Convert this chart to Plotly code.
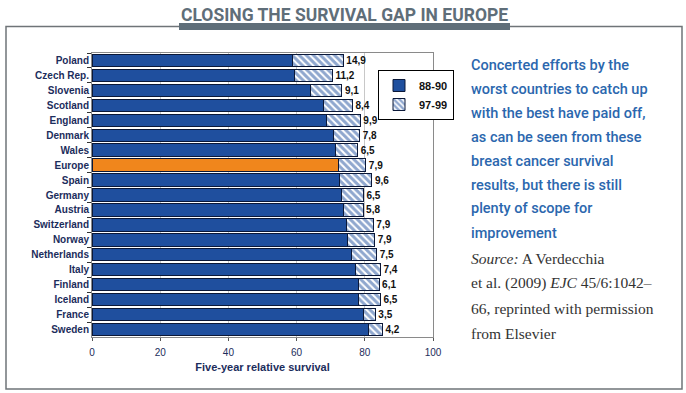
import plotly.graph_objects as go

countries = ["Poland", "Czech Rep.", "Slovenia", "Scotland", "England", "Denmark", "Wales",
             "Europe", "Spain", "Germany", "Austria", "Switzerland", "Norway", "Netherlands",
             "Italy", "Finland", "Iceland", "France", "Sweden"]
surv_8890 = [58.8, 59.3, 64.2, 68.0, 68.8, 70.7, 71.4, 72.4, 72.5, 73.1, 73.7, 74.6, 75.0,
             76.0, 77.2, 78.1, 78.1, 79.6, 81.0]
gain_9799 = [14.9, 11.2, 9.1, 8.4, 9.9, 7.8, 6.5, 7.9, 9.6, 6.5, 5.8, 7.9, 7.9, 7.5, 7.4,
             6.1, 6.5, 3.5, 4.2]
gain_labels = ["<b>" + f"{v:.1f}".replace(".", ",") + "</b>" for v in gain_9799]
x_ticks = [0, 20, 40, 60, 80, 100]

title_text = "CLOSING THE SURVIVAL GAP IN EUROPE"
blurb_lines = ["Concerted efforts by the", "worst countries to catch up",
               "with the best have paid off,", "as can be seen from these",
               "breast cancer survival", "results, but there is still",
               "plenty of scope for", "improvement"]
source_lines = ["<i>Source:</i> A Verdecchia", "et al. (2009) <i>EJC</i> 45/6:1042–",
                "66, reprinted with permission", "from Elsevier"]

W, H = 686, 393
L, R, T, B = 92, 433, 53, 337

def px(x):
    return (x - L) / (R - L)

def py(y):
    return (B - y) / (B - T)

BLUE = "#1f4f9e"
ORANGE = "#f0861c"
NAVY = "#1c2d5c"
EDGE = "#0b1838"
SANS = "Arial, Liberation Sans, sans-serif"

base_colors = [ORANGE if c == "Europe" else BLUE for c in countries]

fig = go.Figure()
fig.add_trace(go.Bar(
    y=countries, x=surv_8890, orientation="h", name="88-90",
    marker=dict(color=base_colors, line=dict(color=EDGE, width=1)),
    showlegend=False,
))
fig.add_trace(go.Bar(
    y=countries, x=gain_9799, orientation="h", name="<b>97-99</b>",
    marker=dict(color="white", line=dict(color=EDGE, width=1),
                pattern=dict(shape="\\", fgcolor=BLUE, bgcolor="white", size=5, solidity=0.6)),
    text=gain_labels, textposition="outside", constraintext="none", cliponaxis=False,
    textfont=dict(family=SANS, size=10, color="#111111"),
    showlegend=True,
))
fig.add_trace(go.Bar(
    y=[None], x=[None], orientation="h", name="<b>88-90</b>",
    marker=dict(color=BLUE, line=dict(color=EDGE, width=1)), showlegend=True,
))

fig.update_layout(
    width=W, height=H,
    margin=dict(l=L, r=W - R, t=T, b=H - B, pad=0),
    paper_bgcolor="white", plot_bgcolor="white",
    barmode="stack", bargap=0.17,
    font=dict(family=SANS, color=NAVY),
    legend=dict(x=px(378), y=py(70), xanchor="left", yanchor="top",
                bordercolor="black", borderwidth=1, bgcolor="white",
                font=dict(size=11, color="#111111", family=SANS),
                traceorder="reversed", itemwidth=30, tracegroupgap=0),
    xaxis=dict(range=[0, 100], tickvals=x_ticks, showgrid=True, gridcolor="#c8c8c8",
               gridwidth=1, showline=True, mirror=True, linecolor="#8a8a8a", linewidth=1,
               ticks="outside", ticklen=3, tickcolor="#555555", zeroline=False,
               ticklabelstandoff=3,
               automargin=False, tickfont=dict(size=10, color=NAVY),
               title=dict(text="<b>Five-year relative survival</b>", font=dict(size=11, color=NAVY),
                          standoff=6)),
    yaxis=dict(categoryorder="array", categoryarray=countries, autorange="reversed",
               showline=True, mirror=True, linecolor="#8a8a8a", linewidth=1,
               ticks="outside", ticklen=4, tickcolor="#333333", tickson="boundaries",
               automargin=False, showgrid=False, tickfont=dict(size=10, color=NAVY)),
)
fig.update_xaxes(tickprefix="<b>", ticksuffix="</b>")
fig.update_yaxes(tickprefix="<b>", ticksuffix="</b>")

shapes = [
    dict(type="rect", xref="paper", yref="paper", x0=px(6), x1=px(682), y0=py(389), y1=py(26.5),
         line=dict(color="#6f7478", width=1.5), fillcolor="rgba(0,0,0,0)", layer="below"),
    dict(type="rect", xref="paper", yref="paper", x0=px(179), x1=px(510), y0=py(30), y1=py(23),
         line=dict(width=0), fillcolor="#5f6e79", layer="above"),
]
fig.update_layout(shapes=shapes)

ann = [dict(text=f"<b>{title_text}</b>", xref="paper", yref="paper", x=px(344.5), y=py(15),
            xanchor="center", yanchor="middle", showarrow=False,
            font=dict(family="Roboto, Arial, sans-serif", size=17.5, color="#5f6e79"))]
for i, line in enumerate(blurb_lines):
    ann.append(dict(text=line, xref="paper", yref="paper", x=px(469), y=py(65 + 24 * i),
                    xanchor="left", yanchor="middle", showarrow=False,
                    font=dict(family="Roboto, Arial, sans-serif", size=14.5, color="#2b67ae",
                              weight=500)))
for i, line in enumerate(source_lines):
    ann.append(dict(text=line, xref="paper", yref="paper", x=px(469), y=py(258 + 25 * i),
                    xanchor="left", yanchor="middle", showarrow=False,
                    font=dict(family="Liberation Serif, Times New Roman, serif", size=15.5,
                              color="#333333")))
fig.update_layout(annotations=ann)

fig.write_html("out.html", config={"displayModeBar": False},
               post_script="document.body.style.margin='0';document.body.style.padding='0';")
